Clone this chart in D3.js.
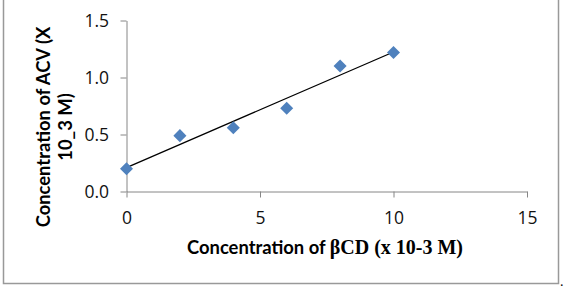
<!DOCTYPE html>
<html><head><meta charset="utf-8">
<script src="https://cdn.jsdelivr.net/npm/d3@7"></script>
<style>body{margin:0;background:#fff}</style>
</head><body>
<svg id="c" width="566" height="296"></svg>
<script>
const xValues = [0, 2, 4, 6, 8, 10];
const yValues = [0.20, 0.49, 0.56, 0.73, 1.10, 1.22];
const xTicks = [0, 5, 10, 15];
const yTicks = [0.0, 0.5, 1.0, 1.5];

const svg = d3.select("#c");
svg.append("rect").attr("x", 3.5).attr("y", -2).attr("width", 555).attr("height", 285.5)
  .attr("fill", "#fff").attr("stroke", "#999").attr("stroke-width", 1.5);
svg.append("text").attr("x", 560).attr("y", 286).text(".").attr("font-family", "Liberation Serif").attr("font-size", 14);

const x = d3.scaleLinear().domain([0, 15]).range([126.5, 527]);
const y = d3.scaleLinear().domain([0, 1.5]).range([191.5, 20.5]);

const font = "Lato, 'Open Sans', sans-serif";
const tickFont = "'Open Sans', sans-serif";
const xAxis = svg.append("g").attr("transform", `translate(0,${y(0)})`)
  .call(d3.axisBottom(x).tickValues(xTicks).tickSize(6).tickSizeOuter(0).tickFormat(d3.format("d")));
const yAxis = svg.append("g").attr("transform", `translate(${x(0)},0)`)
  .call(d3.axisLeft(y).tickValues(yTicks).tickSize(6).tickSizeOuter(0).tickFormat(d3.format(".1f")));
[xAxis, yAxis].forEach(g => {
  g.select(".domain").attr("stroke", "#868686");
  g.selectAll(".tick line").attr("stroke", "#868686");
  g.selectAll(".tick text").attr("font-family", tickFont).attr("font-size", 17.5).attr("fill", "#111");
});
xAxis.selectAll(".tick text").attr("dy", "0").attr("y", 32);
yAxis.selectAll(".tick text").attr("x", -17.5).attr("dy", "0.36em");

// trendline (least squares)
const mx = d3.mean(xValues), my = d3.mean(yValues);
const slope = d3.sum(xValues.map((v, i) => (v - mx) * (yValues[i] - my))) / d3.sum(xValues.map(v => (v - mx) ** 2));
const icpt = my - slope * mx;
const x0 = d3.min(xValues), x1 = d3.max(xValues);
svg.append("line").attr("x1", x(x0)).attr("y1", y(icpt + slope * x0))
  .attr("x2", x(x1)).attr("y2", y(icpt + slope * x1))
  .attr("stroke", "#000").attr("stroke-width", 1.3);

const sym = d3.symbol().type(d3.symbolSquare).size(85);
svg.append("g").selectAll("path").data(xValues).join("path")
  .attr("d", sym)
  .attr("transform", (d, i) => `translate(${x(d)},${y(yValues[i])}) rotate(45)`)
  .attr("fill", "#4f81bd");

// x title
const xt = svg.append("text").attr("x", 187).attr("y", 254).attr("text-anchor", "start")
  .attr("font-weight", "bold").attr("font-size", 18.4);
xt.append("tspan").attr("font-family", font).text("Concentration of ");
xt.append("tspan").attr("font-family", "'Liberation Serif', serif").attr("font-size", 20).text("βCD (x 10-3 M)");

// y title
const yt = svg.append("text").attr("transform", "translate(50,127) rotate(-90)")
  .attr("text-anchor", "middle").attr("font-family", font).attr("font-weight", "bold").attr("font-size", 18.4);
yt.append("tspan").attr("x", 0).attr("y", 0).text("Concentration of ACV (X");
yt.append("tspan").attr("x", 0).attr("y", 22).text("10_3 M)");
</script>
</body></html>
